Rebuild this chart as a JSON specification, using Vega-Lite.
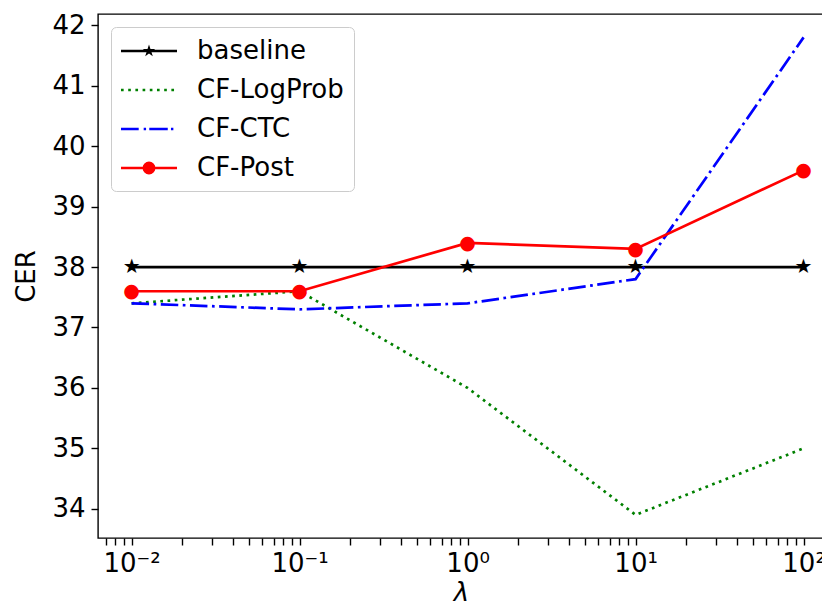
{
  "$schema": "https://vega.github.io/schema/vega-lite/v6.json",
  "width": 726,
  "height": 524,
  "autosize": {"type": "none"},
  "padding": {"left": 98, "top": 14, "right": 0, "bottom": 69},
  "background": "white",
  "config": {
    "font": "DejaVu Sans",
    "view": {"stroke": "#000000", "strokeWidth": 1.4}
  },
  "data": {
    "values": [
      {"lam": 0.01, "series": "baseline", "cer": 38.0},
      {"lam": 0.1, "series": "baseline", "cer": 38.0},
      {"lam": 1, "series": "baseline", "cer": 38.0},
      {"lam": 10, "series": "baseline", "cer": 38.0},
      {"lam": 100, "series": "baseline", "cer": 38.0},
      {"lam": 0.01, "series": "CF-LogProb", "cer": 37.4},
      {"lam": 0.1, "series": "CF-LogProb", "cer": 37.6},
      {"lam": 1, "series": "CF-LogProb", "cer": 36.0},
      {"lam": 10, "series": "CF-LogProb", "cer": 33.9},
      {"lam": 100, "series": "CF-LogProb", "cer": 35.0},
      {"lam": 0.01, "series": "CF-CTC", "cer": 37.4},
      {"lam": 0.1, "series": "CF-CTC", "cer": 37.3},
      {"lam": 1, "series": "CF-CTC", "cer": 37.4},
      {"lam": 10, "series": "CF-CTC", "cer": 37.8},
      {"lam": 100, "series": "CF-CTC", "cer": 41.8},
      {"lam": 0.01, "series": "CF-Post", "cer": 37.6},
      {"lam": 0.1, "series": "CF-Post", "cer": 37.6},
      {"lam": 1, "series": "CF-Post", "cer": 38.4},
      {"lam": 10, "series": "CF-Post", "cer": 38.3},
      {"lam": 100, "series": "CF-Post", "cer": 39.6}
    ]
  },
  "encoding": {
    "x": {
      "field": "lam",
      "type": "quantitative",
      "scale": {"type": "log", "domain": [0.0063096, 132.3], "nice": false},
      "axis": {
        "title": "λ",
        "values": [0.007, 0.008, 0.009, 0.01, 0.02, 0.03, 0.04, 0.05, 0.06, 0.07, 0.08, 0.09, 0.1, 0.2, 0.3, 0.4, 0.5, 0.6, 0.7, 0.8, 0.9, 1, 2, 3, 4, 5, 6, 7, 8, 9, 10, 20, 30, 40, 50, 60, 70, 80, 90, 100],
        "labelExpr": "datum.value==0.01?'10⁻²':datum.value==0.1?'10⁻¹':datum.value==1?'10⁰':datum.value==10?'10¹':datum.value==100?'10²':''",
        "labelOverlap": false,
        "labelFlush": false,
        "labelFontSize": 26,
        "labelColor": "#000000",
        "labelPadding": 5,
        "tickColor": "#000000",
        "tickSize": 7,
        "tickWidth": 1.4,
        "encode": {
          "ticks": {
            "update": {
              "y2": {"signal": "(datum.value==0.01||datum.value==0.1||datum.value==1||datum.value==10||datum.value==100)?7:4"},
              "strokeWidth": {"signal": "(datum.value==0.01||datum.value==0.1||datum.value==1||datum.value==10||datum.value==100)?1.4:1.1"}
            }
          }
        },
        "domain": false,
        "grid": false,
        "titleFontSize": 26,
        "titleFontStyle": "italic",
        "titleFontWeight": "normal",
        "titleColor": "#000000",
        "titlePadding": 3
      }
    },
    "y": {
      "field": "cer",
      "type": "quantitative",
      "scale": {"domain": [33.517, 42.187], "nice": false, "zero": false},
      "axis": {
        "title": "CER",
        "values": [34, 35, 36, 37, 38, 39, 40, 41, 42],
        "labelFontSize": 26,
        "labelColor": "#000000",
        "labelPadding": 6,
        "tickColor": "#000000",
        "tickSize": 7,
        "tickWidth": 1.4,
        "domain": false,
        "grid": false,
        "titleFontSize": 26,
        "titleFontWeight": "normal",
        "titleColor": "#000000",
        "titlePadding": 12
      }
    }
  },
  "layer": [
    {
      "transform": [{"filter": "datum.series=='baseline'"}],
      "mark": {"type": "line", "strokeWidth": 2.7, "color": "#000000"},
      "encoding": {}
    },
    {
      "transform": [{"filter": "datum.series=='CF-LogProb'"}],
      "mark": {"type": "line", "strokeWidth": 2.7, "color": "#008000", "strokeDash": [2.7, 4.5], "strokeCap": "butt"},
      "encoding": {}
    },
    {
      "transform": [{"filter": "datum.series=='CF-CTC'"}],
      "mark": {"type": "line", "strokeWidth": 2.7, "color": "#0000ff", "strokeDash": [17.5, 4.5, 2.7, 4.5], "strokeCap": "butt"},
      "encoding": {}
    },
    {
      "transform": [{"filter": "datum.series=='CF-Post'"}],
      "mark": {"type": "line", "strokeWidth": 2.7, "color": "#ff0000"},
      "encoding": {}
    },
    {
      "transform": [{"filter": "datum.series=='baseline'"}],
      "mark": {"type": "text", "text": "★", "font": "DejaVu Sans", "fontSize": 20, "color": "#000000", "baseline": "middle", "align": "center"},
      "encoding": {}
    },
    {
      "transform": [{"filter": "datum.series=='CF-Post'"}],
      "mark": {"type": "text", "text": "●", "font": "DejaVu Sans", "fontSize": 19, "color": "#ff0000", "baseline": "middle", "align": "center"},
      "encoding": {}
    },
    {
      "mark": {"type": "point", "filled": true, "size": 0, "strokeWidth": 0, "opacity": 1},
      "encoding": {
        "fill": {
          "field": "series",
          "type": "nominal",
          "sort": null,
          "scale": {"domain": ["baseline", "CF-LogProb", "CF-CTC", "CF-Post"], "range": ["#000000", "#008000", "#0000ff", "#ff0000"]},
          "legend": {
            "title": null,
            "orient": "none",
            "legendX": 13,
            "legendY": 13,
            "symbolSize": 784,
            "symbolOffset": 14,
            "symbolStrokeWidth": 0,
            "symbolOpacity": 1,
            "labelOffset": 34,
            "labelFontSize": 26,
            "labelColor": "#000000",
            "labelLimit": 400,
            "padding": 10,
            "rowPadding": 12,
            "fillColor": "#ffffff",
            "strokeColor": "#cccccc",
            "cornerRadius": 5
          }
        },
        "shape": {
          "field": "series",
          "type": "nominal",
          "sort": null,
          "scale": {
            "domain": ["baseline", "CF-LogProb", "CF-CTC", "CF-Post"],
            "range": [
              "M-2,-0.09H2V0.09H-2Z M0,-0.46L0.104,-0.142L0.437,-0.142L0.167,0.054L0.27,0.372L0,0.176L-0.27,0.372L-0.167,0.054L-0.437,-0.142L-0.104,-0.142Z",
              "M-2,-0.095H-1.81V0.095H-2Z M-1.486,-0.095H-1.296V0.095H-1.486Z M-0.972,-0.095H-0.782V0.095H-0.972Z M-0.458,-0.095H-0.268V0.095H-0.458Z M0.056,-0.095H0.246V0.095H0.056Z M0.57,-0.095H0.76V0.095H0.57Z M1.084,-0.095H1.274V0.095H1.084Z M1.598,-0.095H1.788V0.095H1.598Z",
              "M-2,-0.09H-0.736V0.09H-2Z M-0.38,-0.09H-0.21V0.09H-0.38Z M0.02,-0.09H1.34V0.09H0.02Z M1.57,-0.09H1.74V0.09H1.57Z",
              "M-2,-0.09H2V0.09H-2Z M0.46,0L0.425,0.176L0.325,0.325L0.176,0.425L0,0.46L-0.176,0.425L-0.325,0.325L-0.425,0.176L-0.46,0L-0.425,-0.176L-0.325,-0.325L-0.176,-0.425L0,-0.46L0.176,-0.425L0.325,-0.325L0.425,-0.176Z"
            ]
          },
          "legend": {
            "title": null,
            "orient": "none",
            "legendX": 13,
            "legendY": 13,
            "symbolSize": 784,
            "symbolOffset": 14,
            "symbolStrokeWidth": 0,
            "symbolOpacity": 1,
            "labelOffset": 34,
            "labelFontSize": 26,
            "labelColor": "#000000",
            "labelLimit": 400,
            "padding": 10,
            "rowPadding": 12,
            "fillColor": "#ffffff",
            "strokeColor": "#cccccc",
            "cornerRadius": 5
          }
        }
      }
    }
  ]
}
